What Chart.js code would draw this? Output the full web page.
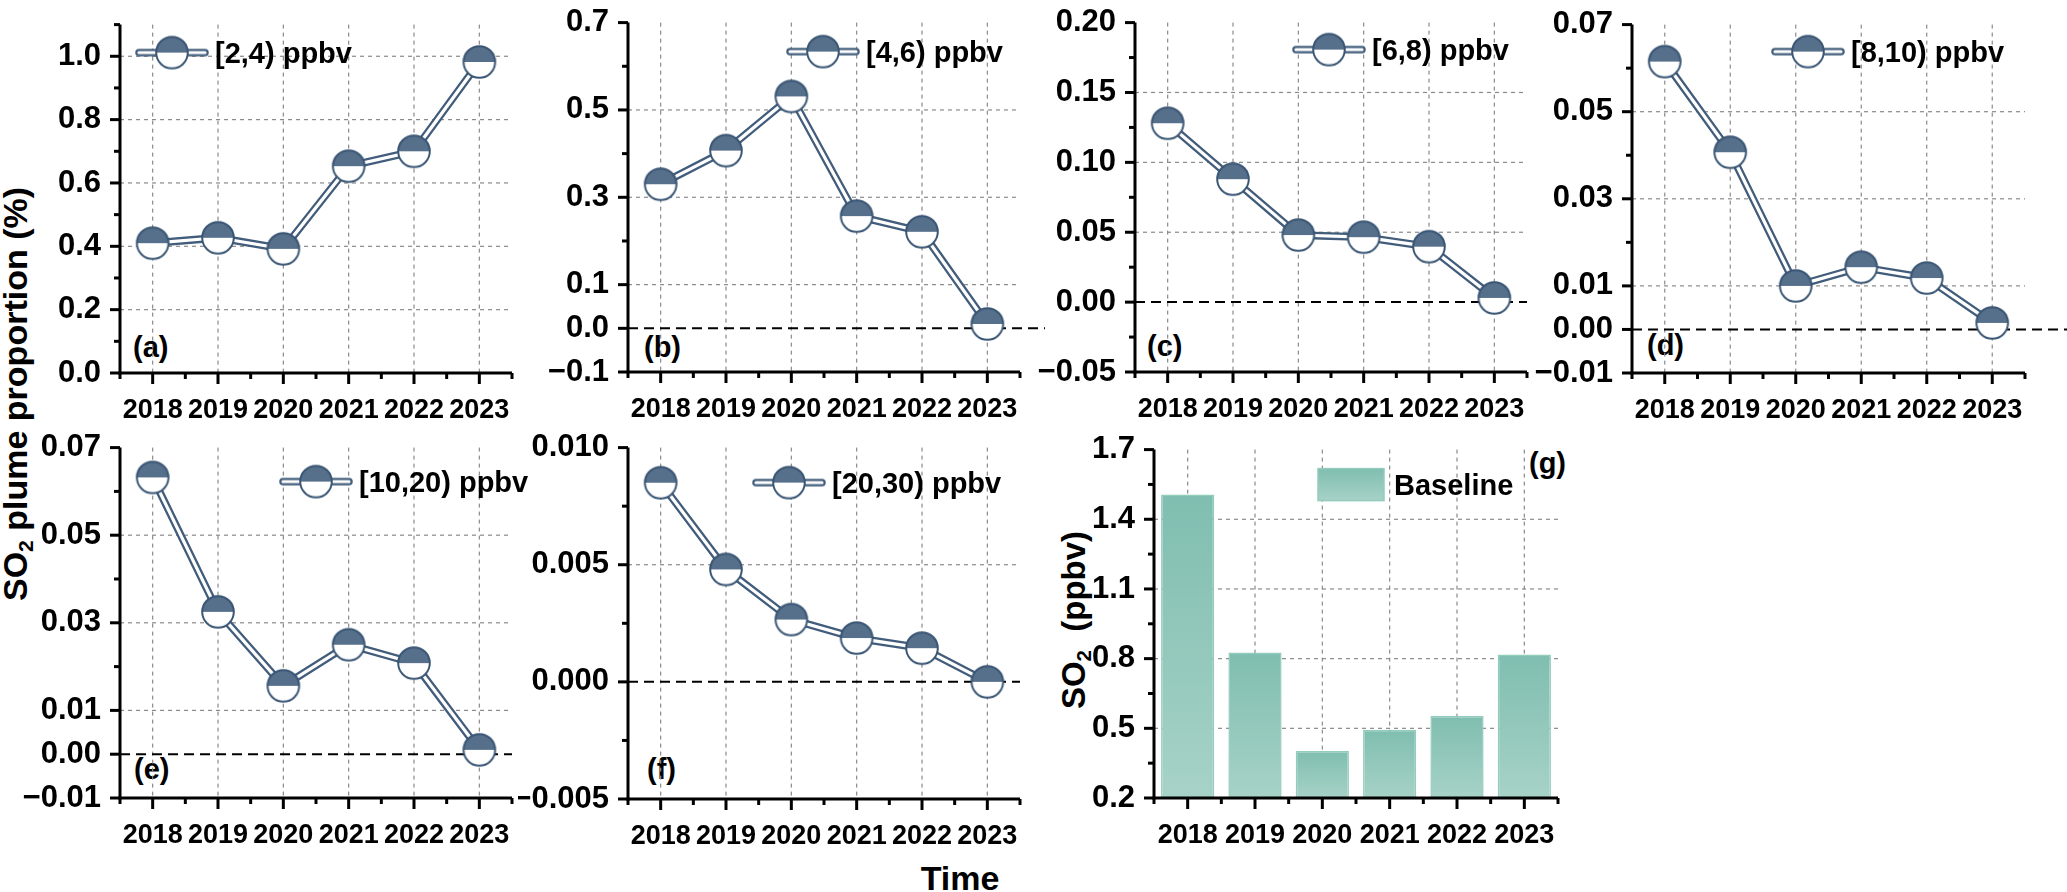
<!DOCTYPE html>
<html>
<head>
<meta charset="utf-8">
<script src="https://cdn.jsdelivr.net/npm/chart.js@4.4.1/dist/chart.umd.min.js"></script>
<style>
html, body { margin: 0; padding: 0; background: #fff; overflow: hidden; width: 2067px; height: 892px; }
body { position: relative; font-family: "Liberation Sans", Arial, sans-serif; font-weight: bold; color: #000; }
canvas { position: absolute; }
.txt { position: absolute; white-space: nowrap; line-height: 1; }
.rot { transform: translate(-50%, -50%) rotate(-90deg); }
.mid { transform: translate(0, -50%); }
.ctr { transform: translate(-50%, -50%); }
.sub { font-size: 0.62em; vertical-align: -0.3em; }
</style>
</head>
<body>
<div class="txt rot" style="left:17px;top:394px;font-size:34px">SO<span class="sub">2</span> plume proportion (%)</div>
<div class="txt rot" style="left:1076px;top:620px;font-size:33px">SO<span class="sub">2</span>&nbsp; (ppbv)</div>
<div class="txt ctr" style="left:960px;top:878px;font-size:34px">Time</div>
<div class="txt mid" style="left:133px;top:347px;font-size:29px">(a)</div>
<div class="txt mid" style="left:644px;top:347px;font-size:29px">(b)</div>
<div class="txt mid" style="left:1147px;top:346px;font-size:29px">(c)</div>
<div class="txt mid" style="left:1647px;top:345px;font-size:29px">(d)</div>
<div class="txt mid" style="left:134px;top:769px;font-size:29px">(e)</div>
<div class="txt mid" style="left:647px;top:769px;font-size:29px">(f)</div>
<div class="txt mid" style="left:1529px;top:463px;font-size:29px">(g)</div>

<script>
const years = ['2018', '2019', '2020', '2021', '2022', '2023'];
const binLabels = ['[2,4) ppbv', '[4,6) ppbv', '[6,8) ppbv', '[8,10) ppbv', '[10,20) ppbv', '[20,30) ppbv'];

// plume proportion (%) per concentration bin
const propA = [0.41, 0.427, 0.392, 0.653, 0.70, 0.982];
const propB = [0.33, 0.407, 0.531, 0.257, 0.221, 0.01];
const propC = [0.128, 0.088, 0.048, 0.0465, 0.0397, 0.003];
const propD = [0.0615, 0.0407, 0.0100, 0.0143, 0.0118, 0.0015];
const propE = [0.0632, 0.0325, 0.0156, 0.025, 0.0208, 0.001];
const propF = [0.0085, 0.0048, 0.00266, 0.00187, 0.00144, 0.0];

// baseline SO2 (ppbv)
const baselineLabel = 'Baseline';
const baseline = [1.507, 0.826, 0.402, 0.494, 0.553, 0.818];

// tick labels (major) and minor ticks
const ticksA = [0, 0.2, 0.4, 0.6, 0.8, 1.0];
const minorA = [0.1, 0.3, 0.5, 0.7, 0.9, 1.1];
const ticksB = [-0.1, 0, 0.1, 0.3, 0.5, 0.7];
const minorB = [0.2, 0.4, 0.6];
const ticksC = [-0.05, 0, 0.05, 0.10, 0.15, 0.20];
const minorC = [-0.025, 0.025, 0.075, 0.125, 0.175];
const ticksD = [-0.01, 0, 0.01, 0.03, 0.05, 0.07];
const minorD = [0.02, 0.04, 0.06];
const ticksE = [-0.01, 0, 0.01, 0.03, 0.05, 0.07];
const minorE = [0.02, 0.04, 0.06];
const ticksF = [-0.005, 0, 0.005, 0.010];
const minorF = [-0.0025, 0.0025, 0.0075];
const ticksG = [0.2, 0.5, 0.8, 1.1, 1.4, 1.7];
const minorG = [0.35, 0.65, 0.95, 1.25, 1.55];

const FONT = '"Liberation Sans", Arial, sans-serif';
Chart.defaults.font.family = FONT;
Chart.defaults.font.weight = 'bold';
Chart.defaults.color = '#000';

const LINE_DARK = '#425d7b';
const MARK_FILL = '#566f8b';
const MARK_EDGE = '#3a5674';

// half filled circle marker
function makeMarker() {
  const c = document.createElement('canvas');
  c.width = 36; c.height = 36;
  const g = c.getContext('2d');
  const r = 15.8;
  g.fillStyle = '#fff';
  g.beginPath(); g.arc(18, 18, r, 0, 2 * Math.PI); g.fill();
  g.fillStyle = MARK_FILL;
  g.beginPath(); g.arc(18, 18, r, Math.PI, 2 * Math.PI); g.closePath(); g.fill();
  g.strokeStyle = MARK_EDGE; g.lineWidth = 2;
  g.beginPath(); g.arc(18, 18, r, 0, 2 * Math.PI); g.stroke();
  return c;
}
const marker = makeMarker();

// legend symbol: double line with marker
function makeLegendSymbol() {
  const c = document.createElement('canvas');
  c.width = 76; c.height = 36;
  const g = c.getContext('2d');
  g.lineCap = 'round';
  g.strokeStyle = LINE_DARK; g.lineWidth = 7.5;
  g.beginPath(); g.moveTo(5, 18); g.lineTo(71, 18); g.stroke();
  g.strokeStyle = '#fff'; g.lineWidth = 3.2;
  g.beginPath(); g.moveTo(5, 18); g.lineTo(71, 18); g.stroke();
  g.drawImage(marker, 20, 0);
  return c;
}
const legendSymbol = makeLegendSymbol();

function fmt(v, dec) {
  return v.toFixed(dec).replace('-', '\u2212');
}

function line(ctx, x1, y1, x2, y2) {
  ctx.beginPath(); ctx.moveTo(x1, y1); ctx.lineTo(x2, y2); ctx.stroke();
}

const decor = {
  id: 'decor',
  beforeDatasetsDraw(chart, args, o) {
    const {ctx, chartArea: a, scales: {x, y}} = chart;
    ctx.save();
    ctx.strokeStyle = '#8a8a8a';
    ctx.lineWidth = 1.2;
    ctx.setLineDash([4, 4]);
    years.forEach((_, i) => {
      const px = x.getPixelForValue(i);
      line(ctx, px, a.top, px, a.bottom);
    });
    o.ticks.forEach(v => {
      if (v === o.min || v === o.max || v === 0) return;
      const py = y.getPixelForValue(v);
      line(ctx, a.left, py, a.right, py);
    });
    if (o.min < 0) {
      ctx.strokeStyle = '#000';
      ctx.lineWidth = 2;
      ctx.setLineDash([10, 6]);
      const py = y.getPixelForValue(0);
      line(ctx, a.left, py, a.right + o.zeroExt, py);
    }
    ctx.restore();
  },
  afterDatasetsDraw(chart, args, o) {
    const {ctx, chartArea: a, scales: {x, y}} = chart;
    ctx.save();
    ctx.strokeStyle = '#000';
    ctx.lineWidth = 3;
    ctx.setLineDash([]);
    line(ctx, a.left, a.top, a.left, a.bottom + 1.5);
    line(ctx, a.left - 1.5, a.bottom, a.right, a.bottom);
    o.ticks.forEach(v => {
      const py = y.getPixelForValue(v);
      line(ctx, a.left - 10, py, a.left, py);
    });
    o.minor.forEach(v => {
      const py = y.getPixelForValue(v);
      line(ctx, a.left - 6, py, a.left, py);
    });
    years.forEach((_, i) => {
      const px = x.getPixelForValue(i);
      line(ctx, px, a.bottom, px, a.bottom + 11);
    });
    for (let i = 0; i <= years.length; i++) {
      const px = x.getPixelForValue(i - 0.5);
      line(ctx, px, a.bottom, px, a.bottom + 6);
    }
    ctx.restore();
  },
  afterDraw(chart, args, o) {
    const {ctx, chartArea: a} = chart;
    const ds = chart.data.datasets[0];
    ctx.save();
    ctx.fillStyle = '#000';
    ctx.font = 'bold 29px ' + FONT;
    ctx.textBaseline = 'middle';
    const lx = a.left + o.leg[0], ly = a.top + o.leg[1];
    if (chart.config.type === 'line') {
      ctx.drawImage(legendSymbol, lx - 1, ly - 18);
      ctx.fillText(ds.label, lx + 80, ly + 2);
    } else {
      const g = ctx.createLinearGradient(0, ly - 16, 0, ly + 16);
      g.addColorStop(0, '#7fbeb0');
      g.addColorStop(1, '#a7d2c7');
      ctx.fillStyle = g;
      ctx.fillRect(lx, ly - 16, 66, 32);
      ctx.strokeStyle = '#93cbbd';
      ctx.lineWidth = 1.5;
      ctx.strokeRect(lx, ly - 16, 66, 32);
      ctx.fillStyle = '#000';
      ctx.fillText(ds.label, lx + 76, ly + 2);
    }
    ctx.restore();
  }
};

const L = 110, T = 20, B = 62;

function makeChart(p) {
  const box = p.box;
  const c = document.createElement('canvas');
  c.width = box[2] - box[0] + L + p.padR;
  c.height = box[3] - box[1] + T + B;
  c.style.left = (box[0] - L) + 'px';
  c.style.top = (box[1] - T) + 'px';
  c.style.width = c.width + 'px';
  c.style.height = c.height + 'px';
  document.body.appendChild(c);

  let datasets;
  if (p.type === 'line') {
    datasets = [
      { label: p.label, data: p.data, borderColor: '#fff', borderWidth: 3.2,
        pointStyle: marker, pointRadius: 16, pointHoverRadius: 16, tension: 0, clip: false },
      { label: p.label, data: p.data, borderColor: LINE_DARK, borderWidth: 7.8,
        pointRadius: 0, tension: 0, clip: false }
    ];
  } else {
    datasets = [{
      label: p.label, data: p.data, base: p.min,
      backgroundColor: (ctx) => {
        const chart = ctx.chart;
        if (!chart.chartArea || !ctx.parsed) return '#8cc5b7';
        const ys = chart.scales.y;
        const top = ys.getPixelForValue(ctx.parsed.y);
        const bot = ys.getPixelForValue(p.min);
        const g = chart.ctx.createLinearGradient(0, top, 0, bot);
        g.addColorStop(0, '#7fbeb0');
        g.addColorStop(1, '#a7d2c7');
        return g;
      },
      borderColor: '#93cbbd', borderWidth: 1.5, borderSkipped: 'start',
      barPercentage: 0.79, categoryPercentage: 1
    }];
  }

  new Chart(c, {
    type: p.type,
    data: { labels: years, datasets },
    plugins: [decor],
    options: {
      responsive: false,
      animation: false,
      devicePixelRatio: 1,
      layout: { padding: { left: 0, top: T, right: p.padR, bottom: 0 } },
      plugins: {
        legend: { display: false },
        tooltip: { enabled: false },
        decor: { ticks: p.ticks, minor: p.minor, min: p.min, max: p.max, zeroExt: p.zeroExt, leg: p.leg }
      },
      scales: {
        x: {
          type: 'category', offset: true,
          grid: { display: false }, border: { display: false },
          ticks: { color: '#000', font: { size: 27, weight: 'bold' }, padding: 13, maxRotation: 0, autoSkip: false },
          afterFit: (s) => { s.height = B; }
        },
        y: {
          type: 'linear', min: p.min, max: p.max,
          grid: { display: false }, border: { display: false },
          afterBuildTicks: (s) => { s.ticks = p.ticks.map(v => ({ value: v })); },
          ticks: { color: '#000', font: { size: 31, weight: 'bold' }, padding: 11,
                   callback: (v) => fmt(v, p.dec) },
          afterFit: (s) => { s.width = L; }
        }
      }
    }
  });
}

makeChart({ type: 'line', label: binLabels[0], data: propA, ticks: ticksA, minor: minorA, min: 0, max: 1.1, dec: 1,
  box: [120, 15, 512, 373], padR: 45, zeroExt: 0, leg: [15, 28] });
makeChart({ type: 'line', label: binLabels[1], data: propB, ticks: ticksB, minor: minorB, min: -0.1, max: 0.7, dec: 1,
  box: [628, 13, 1020, 372], padR: 45, zeroExt: 25, leg: [158, 29] });
makeChart({ type: 'line', label: binLabels[2], data: propC, ticks: ticksC, minor: minorC, min: -0.05, max: 0.20, dec: 2,
  box: [1135, 13, 1527, 372], padR: 45, zeroExt: 0, leg: [157, 27] });
makeChart({ type: 'line', label: binLabels[3], data: propD, ticks: ticksD, minor: minorD, min: -0.01, max: 0.07, dec: 2,
  box: [1632, 15, 2025, 373], padR: 42, zeroExt: 42, leg: [139, 27] });
makeChart({ type: 'line', label: binLabels[4], data: propE, ticks: ticksE, minor: minorE, min: -0.01, max: 0.07, dec: 2,
  box: [120, 438, 512, 798], padR: 45, zeroExt: 0, leg: [159, 34] });
makeChart({ type: 'line', label: binLabels[5], data: propF, ticks: ticksF, minor: minorF, min: -0.005, max: 0.010, dec: 3,
  box: [628, 438, 1020, 799], padR: 45, zeroExt: 0, leg: [124, 35] });
makeChart({ type: 'bar', label: baselineLabel, data: baseline, ticks: ticksG, minor: minorG, min: 0.2, max: 1.7, dec: 1,
  box: [1154, 440, 1558, 798], padR: 45, zeroExt: 0, leg: [164, 35] });
</script>
</body>
</html>
